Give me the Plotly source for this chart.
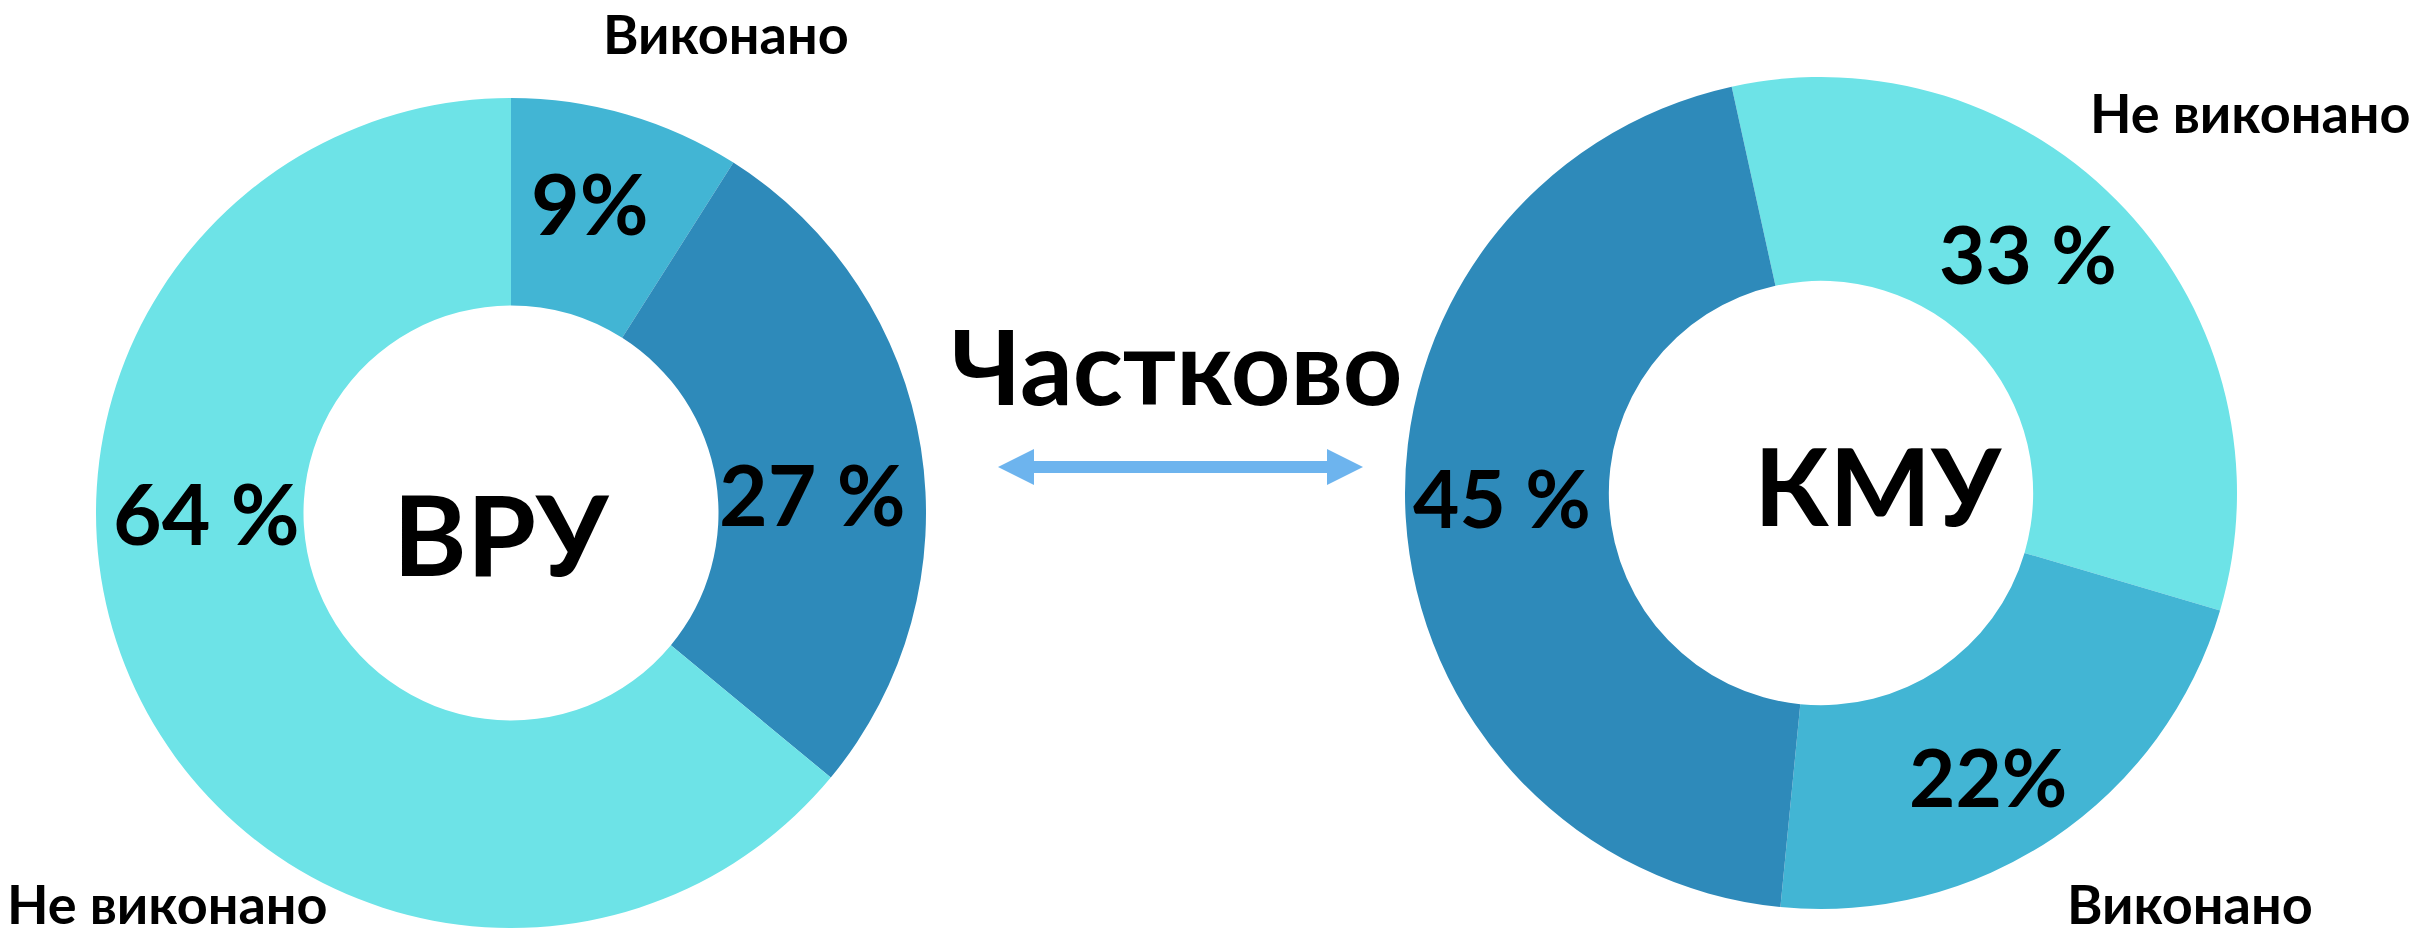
import plotly.graph_objects as go

W, H = 2433, 938

# Data
vru_labels = ["Виконано", "Частково", "Не виконано"]
vru_values = [9, 27, 64]
vru_text = ["9%", "27 %", "64 %"]

kmu_labels = ["Не виконано", "Виконано", "Частково"]
kmu_values = [33, 22, 45]
kmu_text = ["33 %", "22%", "45 %"]

colors = {"Виконано": "#42B5D4", "Частково": "#2E8ABA", "Не виконано": "#6DE3E7"}
FONT = "Lato"


def px(x):
    return x / W


def py(y):
    return 1 - y / H


fig = go.Figure()

fig.add_trace(go.Pie(
    labels=vru_labels, values=vru_values, hole=0.5, sort=False,
    direction="clockwise", rotation=0, textinfo="none",
    marker=dict(colors=[colors[l] for l in vru_labels], line=dict(width=0)),
    domain=dict(x=[px(96), px(926)], y=[py(928), py(98)]),
    showlegend=False,
))
fig.add_trace(go.Pie(
    labels=kmu_labels, values=kmu_values, hole=0.51, sort=False,
    direction="clockwise", rotation=-12.4, textinfo="none",
    marker=dict(colors=[colors[l] for l in kmu_labels], line=dict(width=0)),
    domain=dict(x=[px(1405), px(2237)], y=[py(909), py(77)]),
    showlegend=False,
))

annotations = []


def ann(text, x, y, size):
    annotations.append(dict(
        text=text, x=px(x), y=py(y), xref="paper", yref="paper",
        xanchor="center", yanchor="middle", showarrow=False,
        font=dict(family=FONT, size=size, color="#000000", weight="bold"),
    ))


# percentage labels
for t, (x, y) in zip(vru_text, [(590, 202), (812, 493), (206, 512)]):
    ann(t, x, y, 84)
for t, (x, y) in zip(kmu_text, [(2028, 253), (1988, 776), (1502, 497)]):
    ann(t, x, y, 80)

# centre titles
ann("ВРУ", 501, 532, 112)
ann("КМУ", 1878, 484, 108)

# category labels
ann("Виконано", 726, 33, 54)
ann("Не виконано", 167, 903, 54)
ann("Не виконано", 2250, 112, 54)
ann("Виконано", 2190, 903, 54)
ann("Частково", 1176, 364, 104)

arrow_color = "#6DB4EE"
ay = 467
shapes = [
    dict(type="line", xref="paper", yref="paper",
         x0=px(1030), x1=px(1331), y0=py(ay), y1=py(ay),
         line=dict(color=arrow_color, width=12)),
    dict(type="path", xref="paper", yref="paper",
         path=f"M {px(998)} {py(ay)} L {px(1034)} {py(ay-18)} L {px(1034)} {py(ay+18)} Z",
         fillcolor=arrow_color, line=dict(width=0)),
    dict(type="path", xref="paper", yref="paper",
         path=f"M {px(1363)} {py(ay)} L {px(1327)} {py(ay-18)} L {px(1327)} {py(ay+18)} Z",
         fillcolor=arrow_color, line=dict(width=0)),
]

fig.update_layout(
    width=W, height=H,
    margin=dict(l=0, r=0, t=0, b=0),
    paper_bgcolor="white", plot_bgcolor="white",
    annotations=annotations, shapes=shapes,
)

fig.write_html("out.html")
